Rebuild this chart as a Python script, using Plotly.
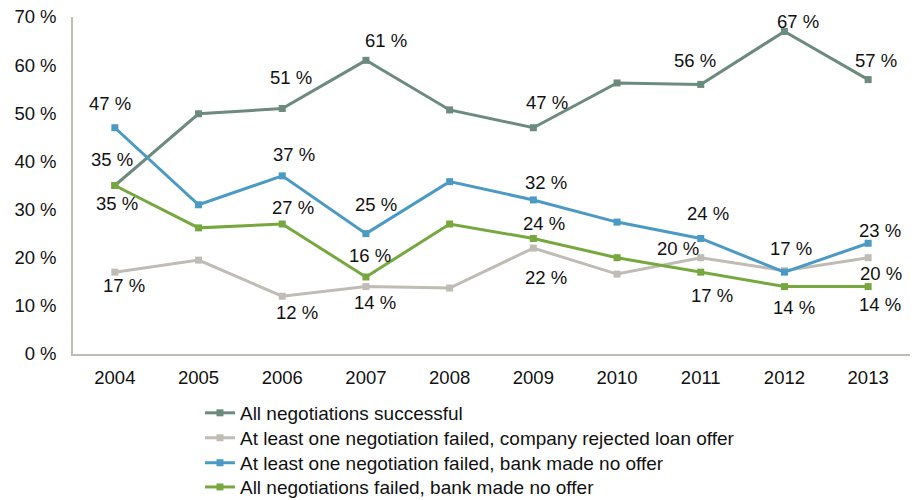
import plotly.graph_objects as go

# Survey years
years = ["2004", "2005", "2006", "2007", "2008", "2009", "2010", "2011", "2012", "2013"]

# Share of companies (%) per outcome of loan negotiations
all_successful = [35, 49.9, 51, 61, 50.7, 47, 56.3, 56, 67, 57]
company_rejected = [17, 19.5, 12, 14, 13.7, 22, 16.6, 20, 17.3, 20]
bank_no_offer_one = [47, 31, 37, 25, 35.8, 32, 27.4, 24, 17, 23]
bank_no_offer_all = [35, 26.2, 27, 16, 27, 24, 20, 17, 14, 14]

series_names = [
    "All negotiations successful",
    "At least one negotiation failed, company rejected loan offer",
    "At least one negotiation failed, bank made no offer",
    "All negotiations failed, bank made no offer",
]
series_values = [all_successful, company_rejected, bank_no_offer_one, bank_no_offer_all]
series_colors = ["#6c8a7d", "#bfbcb6", "#4b9ac4", "#77a83f"]

# Data-label placement (pixel offsets dx, dy-down) per year; years absent get no label
label_offsets = [
    {"2004": (-3, -26), "2006": (9, -31), "2007": (20, -20), "2009": (14, -25),
     "2011": (-6, -24), "2012": (14, -10), "2013": (8, -19)},
    {"2004": (9, 13), "2006": (15, 16), "2007": (9, 16), "2009": (13, 29),
     "2011": (-23, -9), "2013": (13, 16)},
    {"2004": (-5, -24), "2006": (12, -21), "2007": (10, -29), "2009": (13, -17),
     "2011": (7, -25), "2012": (7, -24), "2013": (12, -13)},
    {"2004": (2, 18), "2006": (11, -17), "2007": (4, -21), "2009": (11, -15),
     "2011": (11, 23), "2012": (10, 21), "2013": (12, 18)},
]

# One legend per series so rows can be spaced like the printed chart
legend_ids = ["legend", "legend2", "legend3", "legend4"]
legend_rows_y = [-0.175, -0.249, -0.323, -0.395]

FONT = "Liberation Sans, Arial, sans-serif"
FS = 18.5
LEG_FS = 19

fig = go.Figure()
annotations = []
for name, vals, color, offs, lid in zip(series_names, series_values, series_colors,
                                        label_offsets, legend_ids):
    fig.add_trace(go.Scatter(
        x=years, y=vals, name=name, mode="lines+markers",
        line=dict(color=color, width=3),
        marker=dict(symbol="square", size=7, color=color),
        hoverinfo="skip", legend=lid,
    ))
    for i, (yr, v) in enumerate(zip(years, vals)):
        if yr in offs:
            dx, dy = offs[yr]
            annotations.append(dict(
                x=i, y=v, xref="x", yref="y", text=f"{v:.0f} %",
                showarrow=False, xshift=dx, yshift=-dy,
                font=dict(family=FONT, size=FS, color="#111111"),
            ))

legend_style = dict(
    x=0.1517, xanchor="left", yanchor="middle",
    font=dict(family=FONT, size=LEG_FS, color="#111111"),
    bgcolor="rgba(0,0,0,0)",
)

fig.update_layout(
    width=915, height=500,
    margin=dict(l=73, r=5, t=17, b=146, autoexpand=False),
    paper_bgcolor="white", plot_bgcolor="white",
    font=dict(family=FONT, size=FS, color="#111111"),
    annotations=annotations,
    showlegend=True,
    legend=dict(y=legend_rows_y[0], **legend_style),
    legend2=dict(y=legend_rows_y[1], **legend_style),
    legend3=dict(y=legend_rows_y[2], **legend_style),
    legend4=dict(y=legend_rows_y[3], **legend_style),
)
fig.update_xaxes(
    type="category", range=[-0.5, 9.5], showgrid=False, zeroline=False,
    showline=True, linecolor="#bfbcb6", linewidth=1.5,
    ticks="", ticklabelstandoff=6,
    tickfont=dict(family=FONT, size=FS, color="#111111"),
)
fig.update_yaxes(
    range=[0, 70], dtick=10, ticksuffix=" %",
    showgrid=False, zeroline=False,
    showline=True, linecolor="#bfbcb6", linewidth=1.5,
    ticks="", ticklabelstandoff=11,
    tickfont=dict(family=FONT, size=FS, color="#111111"),
)

fig.write_html("out.html")
